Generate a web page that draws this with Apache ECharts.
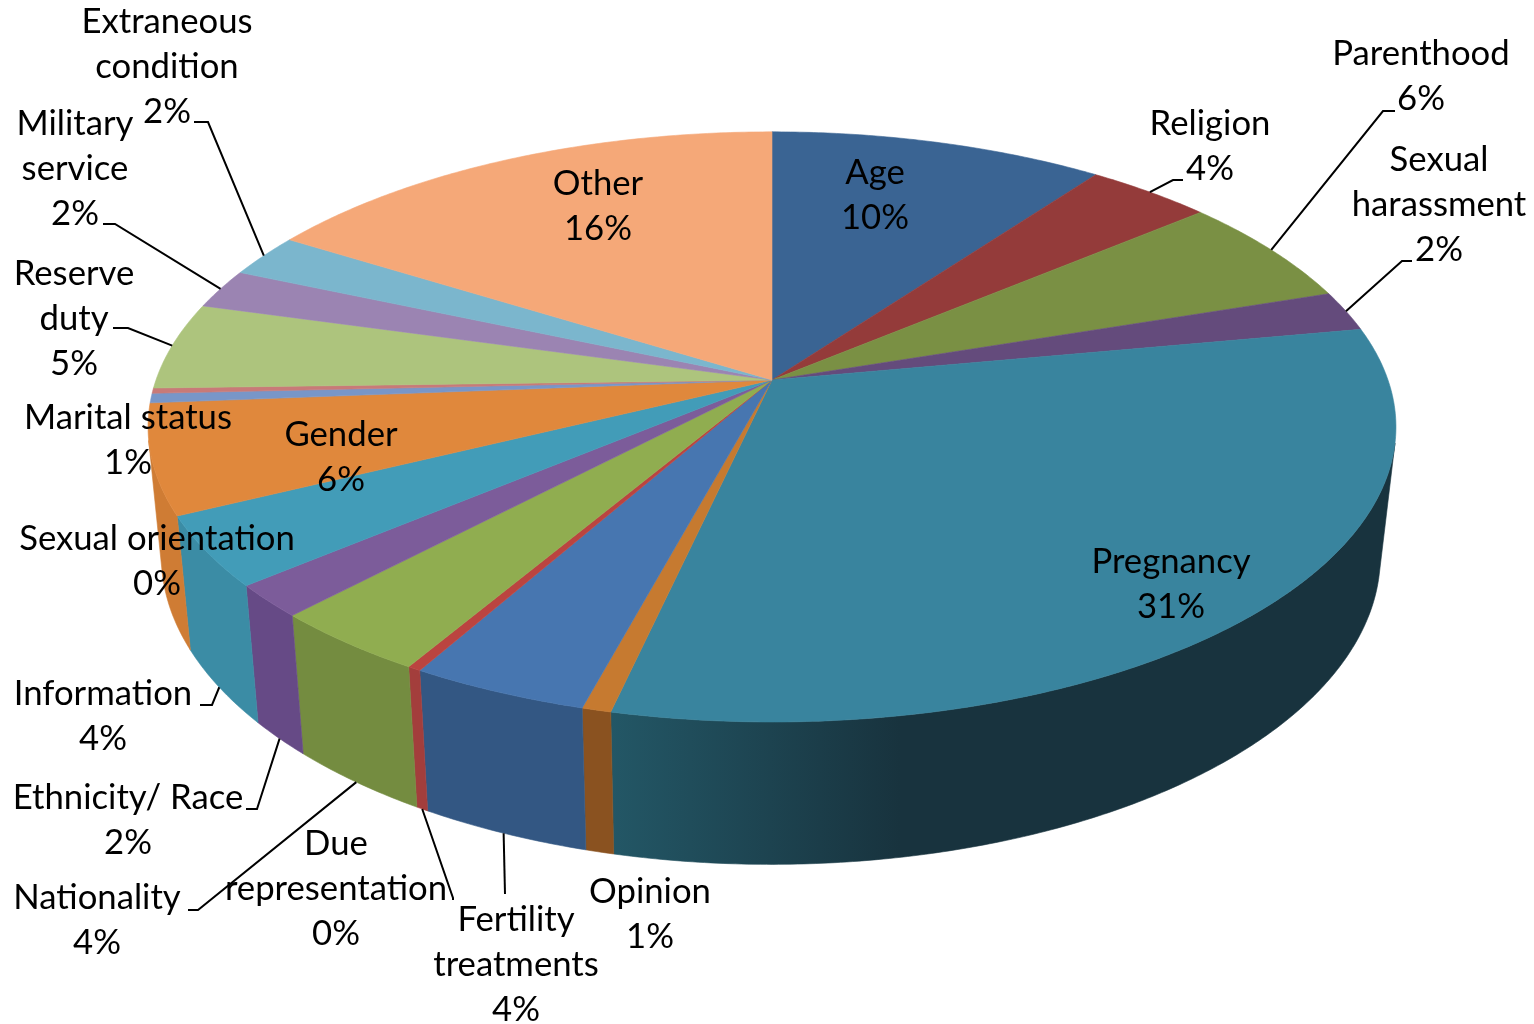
<!DOCTYPE html>
<html>
<head>
<meta charset="utf-8">
<style>html,body{margin:0;padding:0;background:#fff}#chart{width:1534px;height:1024px}</style>
<script src="https://cdn.jsdelivr.net/npm/echarts@6/dist/echarts.min.js"></script>
</head>
<body>
<div id="chart"></div>
<script>
// ---- data ----
const categories = ['Age','Religion','Parenthood','Sexual\nharassment','Pregnancy','Opinion','Fertility\ntreatments','Due\nrepresentation','Nationality','Ethnicity/ Race','Information','Gender','Marital status','Sexual orientation','Reserve\nduty','Military\nservice','Extraneous\ncondition','Other'];
const values = [10.1,3.8,6.0,2.2,31.45,0.65,4.0,0.3,3.6,1.8,3.85,6.0,0.52,0.29,4.77,2.17,2.36,16.14];

// ---- styles ----
const topColors = ['#3a6493','#943b3a','#7a9044','#644b7c','#39849e','#c67a30','#4776b0','#bb4440','#90ad50','#7c5c9a','#429cb8','#e0883c','#7896c8','#c87a78','#adc47d','#9b84b2','#7bb6cd','#f5a878'];
const wallColors = ['#2b4a6e','#6e2c2b','#5b6b32','#4a385c','#235766','#8a5220','#335783','#a33e3c','#748c40','#664a86','#3b8ca5','#cf7c34','#59708f','#955a59','#81925d','#736285','#5b8899','#b67d59'];

// ---- label layout ----
const labelX = [875,1210,1421,1439,1171,650,516,336,97,128,103,341,128,157,74,75,167,598];
const labelY = [173,124,54,160,562,892,920,844,898,798,694,435,418,539,274,124,22,184];
const labelStep = 45;
const leaders = [null,
  {from:[1183,180],elbow:[1173,180],face:'top'},
  {from:[1395,111],elbow:[1383,111],face:'top'},
  {from:[1412,261],elbow:[1402,261],face:'top'},
  null,null,
  {from:[505,894],elbow:[505,894],face:'bottom'},
  {from:[453,900],elbow:[453,898],face:'bottom'},
  {from:[188,910],elbow:[198,910],face:'bottom'},
  {from:[246,809],elbow:[257,809],face:'bottom'},
  {from:[200,705],elbow:[212,705],face:'bottom'},
  null,null,null,
  {from:[113,328],elbow:[128,328],face:'top'},
  {from:[103,224],elbow:[115,224],face:'top'},
  {from:[194,122],elbow:[208,122],face:'top'},
  null];

// ---- perspective geometry of the disc ----
const apex = [772,380], radiusX = 616, radiusY = 287.6, tilt = 0.159;
const vanish = [722,6049], depth = 0.0231;
const total = values.reduce((a,b)=>a+b,0);
const starts = []; let acc = 0;
values.forEach(v=>{starts.push(acc/total*360); acc+=v;});
const rad = d=>d*Math.PI/180;
function topPoint(deg){
  const u=Math.sin(rad(deg)), v=-Math.cos(rad(deg)), w=1-tilt*v;
  return [apex[0]+radiusX*u/w, apex[1]+radiusY*v/w, w];
}
function bottomPoint(deg){
  const p=topPoint(deg), w=p[2];
  return [(p[0]*w+depth*vanish[0])/(w+depth),(p[1]*w+depth*vanish[1])/(w+depth)];
}
function arc(fn,a,b){
  const n=Math.max(2,Math.ceil(Math.abs(b-a)/0.5)), pts=[];
  for(let i=0;i<=n;i++) pts.push(fn(a+(b-a)*i/n).slice(0,2));
  return pts;
}
// visible part of the wall: between the two rim points tangent to lines through the vanishing point
let wallFrom=90, wallTo=270, hi=-9, lo=9;
for(let d=0;d<360;d+=0.25){
  const p=topPoint(d), s=Math.atan2(p[0]-vanish[0],vanish[1]-p[1]);
  if(s>hi){hi=s;wallFrom=d;}
  if(s<lo){lo=s;wallTo=d;}
}
function wallFill(i){
  if(i===4) return new echarts.graphic.LinearGradient(610,0,900,0,[{offset:0,color:'#235766'},{offset:1,color:'#18333e'}],true);
  return wallColors[i];
}

const chart = echarts.init(document.getElementById('chart'),null,{renderer:'canvas'});
chart.setOption({
  animation:false,
  backgroundColor:'#ffffff',
  series:[
    { type:'custom', coordinateSystem:'none', silent:true, z:1, clip:false,
      data:values,
      renderItem(params){
        const i=params.dataIndex;
        const a=Math.max(starts[i],wallFrom), b=Math.min(starts[i]+values[i]/total*360,wallTo);
        if(b<=a) return {type:'group',children:[]};
        const pts=arc(topPoint,a,b).concat(arc(bottomPoint,a,b).reverse());
        const fill=wallFill(i);
        return {type:'polygon',shape:{points:pts},style:{fill,stroke:fill,lineWidth:0.6}};
      }
    },
    { type:'custom', coordinateSystem:'none', silent:true, z:2, clip:false,
      data:values,
      renderItem(params){
        const i=params.dataIndex, a=starts[i], b=a+values[i]/total*360;
        const pts=[apex].concat(arc(topPoint,a,b));
        return {type:'polygon',shape:{points:pts},style:{fill:topColors[i],stroke:topColors[i],lineWidth:0.6}};
      }
    },
    { type:'custom', coordinateSystem:'none', silent:true, z:3, clip:false,
      data:values,
      renderItem(params){
        const i=params.dataIndex, l=leaders[i];
        if(!l) return {type:'group',children:[]};
        const mid=starts[i]+values[i]/total*180;
        const end=(l.face==='top'?topPoint:bottomPoint)(mid).slice(0,2);
        return {type:'polyline',shape:{points:[l.from,l.elbow,end]},style:{fill:null,stroke:'#000000',lineWidth:2}};
      }
    },
    { type:'custom', coordinateSystem:'none', silent:true, z:4, clip:false,
      data:values,
      renderItem(params){
        const i=params.dataIndex;
        const lines=categories[i].split('\n').concat([Math.round(values[i]/total*100)+'%']);
        return {type:'group',children:lines.map((t,k)=>({
          type:'text',
          style:{text:t,x:labelX[i],y:labelY[i]+k*labelStep,align:'center',verticalAlign:'middle',fill:'#000000',font:'34.7px Lato, "Noto Sans", sans-serif'}
        }))};
      }
    }
  ]
});
</script>
</body>
</html>
